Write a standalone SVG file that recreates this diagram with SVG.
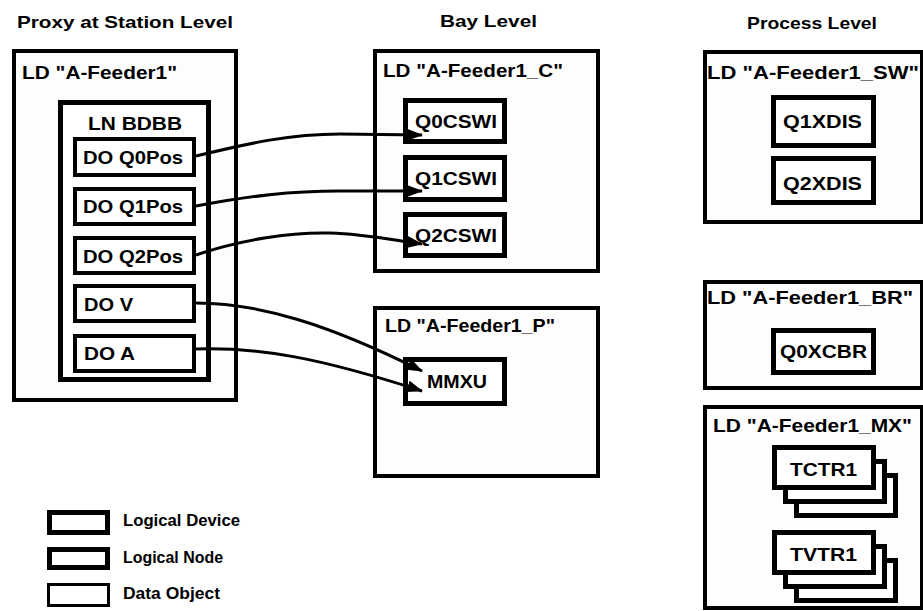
<svg xmlns="http://www.w3.org/2000/svg" width="923" height="611" viewBox="0 0 923 611">
<defs>
<style>
text{font-family:"Liberation Sans",Arial,sans-serif;font-weight:bold;fill:#000}
.title{font-size:17px}
.ldt{font-size:19px}
.lbl{font-size:19px}
.leg{font-size:16px}
.ld{fill:#fdfdfd;stroke:#000;stroke-width:4}
.ln{fill:#fff;stroke:#000;stroke-width:5}
.do{fill:#fff;stroke:#000;stroke-width:4}
.dol{fill:#fff;stroke:#000;stroke-width:3}
.conn{fill:none;stroke:#000;stroke-width:3}
</style>
<marker id="arr" markerUnits="userSpaceOnUse" markerWidth="16" markerHeight="12" refX="15" refY="6" orient="auto">
<path d="M0,0 L16,6 L0,12 z" fill="#000"/>
</marker>
</defs>
<rect width="923" height="611" fill="#fff"/>

<g id="titles">
<text class="title" x="17" y="28" textLength="216" lengthAdjust="spacingAndGlyphs">Proxy at Station Level</text>
<text class="title" x="440" y="27" textLength="97" lengthAdjust="spacingAndGlyphs">Bay Level</text>
<text class="title" x="747" y="29" textLength="130" lengthAdjust="spacingAndGlyphs">Process Level</text>
</g>

<g id="ld-a-feeder1">
<rect class="ld" x="14" y="51" width="222" height="349"/>
<text class="ldt" x="22" y="79" textLength="155" lengthAdjust="spacingAndGlyphs">LD "A-Feeder1"</text>
</g>
<g id="ln-bdbb">
<rect class="ln" x="60.5" y="102.5" width="148" height="277"/>
<text class="lbl" x="88" y="130" textLength="94" lengthAdjust="spacingAndGlyphs">LN BDBB</text>
</g>
<g id="do-q0pos">
<rect class="do" x="75" y="139" width="119" height="36"/>
<text class="lbl" x="83" y="164" textLength="100" lengthAdjust="spacingAndGlyphs">DO Q0Pos</text>
</g>
<g id="do-q1pos">
<rect class="do" x="75" y="189" width="119" height="35"/>
<text class="lbl" x="83" y="213" textLength="100" lengthAdjust="spacingAndGlyphs">DO Q1Pos</text>
</g>
<g id="do-q2pos">
<rect class="do" x="75" y="238" width="119" height="35"/>
<text class="lbl" x="83" y="263" textLength="100" lengthAdjust="spacingAndGlyphs">DO Q2Pos</text>
</g>
<g id="do-v">
<rect class="do" x="75" y="286" width="119" height="35"/>
<text class="lbl" x="84" y="311" textLength="49" lengthAdjust="spacingAndGlyphs">DO V</text>
</g>
<g id="do-a">
<rect class="do" x="75" y="336" width="119" height="35"/>
<text class="lbl" x="84" y="360" textLength="51" lengthAdjust="spacingAndGlyphs">DO A</text>
</g>

<g id="ld-a-feeder1-c">
<rect class="ld" x="375" y="51" width="223" height="220"/>
<text class="ldt" x="383" y="77" textLength="180" lengthAdjust="spacingAndGlyphs">LD "A-Feeder1_C"</text>
</g>
<g id="q0cswi">
<rect class="ln" x="405.5" y="100.5" width="99" height="41"/>
<text class="lbl" x="415" y="128" textLength="82" lengthAdjust="spacingAndGlyphs">Q0CSWI</text>
</g>
<g id="q1cswi">
<rect class="ln" x="405.5" y="157.5" width="99" height="42"/>
<text class="lbl" x="415" y="185" textLength="82" lengthAdjust="spacingAndGlyphs">Q1CSWI</text>
</g>
<g id="q2cswi">
<rect class="ln" x="405.5" y="214.5" width="99" height="41"/>
<text class="lbl" x="415" y="242" textLength="82" lengthAdjust="spacingAndGlyphs">Q2CSWI</text>
</g>

<g id="ld-a-feeder1-p">
<rect class="ld" x="375" y="308" width="223" height="168"/>
<text class="ldt" x="385" y="332" textLength="170" lengthAdjust="spacingAndGlyphs">LD "A-Feeder1_P"</text>
</g>
<g id="mmxu">
<rect class="ln" x="405.5" y="359.5" width="99" height="44"/>
<text class="lbl" x="427" y="388" textLength="60" lengthAdjust="spacingAndGlyphs">MMXU</text>
</g>

<g id="ld-a-feeder1-sw">
<rect class="ld" x="705" y="52" width="217" height="170"/>
<text class="ldt" x="707" y="79" textLength="212" lengthAdjust="spacingAndGlyphs">LD "A-Feeder1_SW"</text>
</g>
<g id="q1xdis">
<rect class="ln" x="773.5" y="97.5" width="100" height="48"/>
<text class="lbl" x="783" y="128" textLength="79" lengthAdjust="spacingAndGlyphs">Q1XDIS</text>
</g>
<g id="q2xdis">
<rect class="ln" x="773.5" y="158.5" width="100" height="44"/>
<text class="lbl" x="783" y="190" textLength="79" lengthAdjust="spacingAndGlyphs">Q2XDIS</text>
</g>

<g id="ld-a-feeder1-br">
<rect class="ld" x="705" y="282" width="217" height="106"/>
<text class="ldt" x="707" y="304" textLength="206" lengthAdjust="spacingAndGlyphs">LD "A-Feeder1_BR"</text>
</g>
<g id="q0xcbr">
<rect class="ln" x="773.5" y="330.5" width="100" height="42"/>
<text class="lbl" x="780" y="358" textLength="87" lengthAdjust="spacingAndGlyphs">Q0XCBR</text>
</g>

<g id="ld-a-feeder1-mx">
<rect class="ld" x="705" y="407" width="217" height="201"/>
<text class="ldt" x="713" y="432" textLength="199" lengthAdjust="spacingAndGlyphs">LD "A-Feeder1_MX"</text>
</g>
<g id="tctr1">
<rect class="ln" x="796.5" y="475.5" width="99" height="40"/>
<rect class="ln" x="785.5" y="461.5" width="99" height="40"/>
<rect class="ln" x="774.5" y="447.5" width="99" height="40"/>
<text class="lbl" x="790" y="476" textLength="67" lengthAdjust="spacingAndGlyphs">TCTR1</text>
</g>
<g id="tvtr1">
<rect class="ln" x="796.5" y="560.5" width="99" height="40"/>
<rect class="ln" x="785.5" y="546.5" width="99" height="40"/>
<rect class="ln" x="774.5" y="532.5" width="99" height="40"/>
<text class="lbl" x="790" y="561" textLength="67" lengthAdjust="spacingAndGlyphs">TVTR1</text>
</g>

<g id="connectors">
<path class="conn" marker-end="url(#arr)" d="M196,156 C250,143 290,134 340,134 L422,135"/>
<path class="conn" marker-end="url(#arr)" d="M196,206 C250,196 290,191 340,191 L422,191"/>
<path class="conn" marker-end="url(#arr)" d="M196,255 C240,240 290,232 330,233 C365,234 392,240 422,244"/>
<path class="conn" marker-end="url(#arr)" d="M196,303 C260,303 330,325 422,371"/>
<path class="conn" marker-end="url(#arr)" d="M196,349 C260,347 320,358 422,391"/>
</g>

<g id="legend">
<rect class="ln" x="49.5" y="512.5" width="58" height="20" fill="#fdfdfd"/>
<text class="leg" x="123" y="526" textLength="117" lengthAdjust="spacingAndGlyphs">Logical Device</text>
<rect class="ln" x="49.5" y="549.5" width="58" height="18"/>
<text class="leg" x="123" y="563" textLength="100" lengthAdjust="spacingAndGlyphs">Logical Node</text>
<rect class="dol" x="48.5" y="584.5" width="60" height="21"/>
<text class="leg" x="123" y="599" textLength="97" lengthAdjust="spacingAndGlyphs">Data Object</text>
</g>
</svg>
